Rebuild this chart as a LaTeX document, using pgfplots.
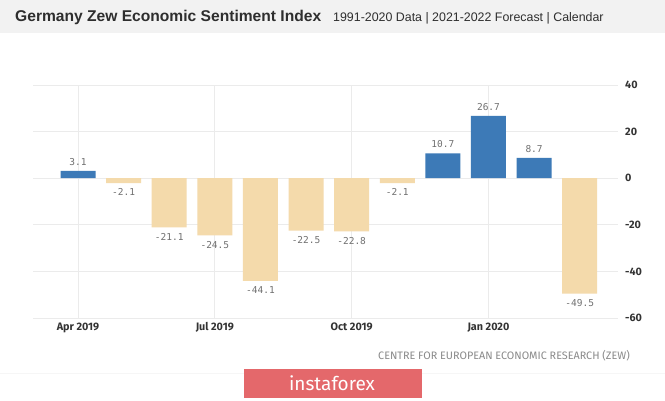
\documentclass[border=0pt]{standalone}
\usepackage{pgfplots}
\pgfplotsset{compat=1.18}
\usepackage{fontspec}
\setmainfont{Liberation Sans}
\newfontfamily\tickfont{Fira Sans}
\newfontfamily\monofont{DejaVu Sans Mono}
\definecolor{barblue}{HTML}{3D7AB7}
\definecolor{barbeige}{HTML}{F4DAAB}
\definecolor{gridgray}{HTML}{EBEBEB}
\definecolor{headgray}{HTML}{F2F2F2}
\definecolor{titlegray}{HTML}{2E2E2E}
\definecolor{labelgray}{HTML}{707070}
\definecolor{tickgray}{HTML}{333333}
\definecolor{srcgray}{HTML}{8A8A8A}
\definecolor{redbox}{HTML}{E4686B}
\definecolor{seplinegray}{HTML}{F6F6F6}
\begin{document}
\begin{tikzpicture}[x=1pt,y=1pt]
\useasboundingbox (0,0) rectangle (665,400);
\fill[white] (0,0) rectangle (665,400);
\fill[headgray] (0,367) rectangle (665,400);
\node[anchor=base west, inner sep=0, font=\bfseries\fontsize{15.6}{17}\selectfont, text=titlegray] at (15,378.3) {Germany Zew Economic Sentiment Index};
\node[anchor=base west, inner sep=0, font=\fontsize{12.4}{14}\selectfont, text=titlegray] at (333,378.3) {1991-2020 Data | 2021-2022 Forecast | Calendar};
\begin{axis}[
  at={(33pt,82pt)}, anchor=south west,
  scale only axis, width=585pt, height=233pt,
  xmin=-0.987, xmax=11.84, ymin=-60, ymax=40,
  ybar, bar width=35pt, bar shift=0pt,
  axis line style={draw=none},
  tick style={draw=none},
  major tick length=0pt,
  ymajorgrids, xmajorgrids,
  major grid style={gridgray, line width=0.9pt},
  ytick={-60,-40,-20,0,20,40},
  yticklabels={-60,-40,-20,0,20,40},
  yticklabel pos=right,
  yticklabel style={anchor=west, inner sep=0pt, xshift=7pt, font=\tickfont\fontsize{10.8}{12}\selectfont\bfseries, text=tickgray},
  xtick={0,3,6,9},
  xticklabels={Apr 2019,Jul 2019,Oct 2019,Jan 2020},
  xticklabel style={anchor=north, inner sep=0pt, yshift=-4.5pt, font=\tickfont\fontsize{10.8}{12}\selectfont\bfseries, text=tickgray},
  point meta=explicit symbolic,
  nodes near coords,
  clip=false,
]
\addplot[fill=barblue, draw=none, nodes near coords style={anchor=south, inner sep=5.5pt, font=\monofont\fontsize{9.5}{11}\selectfont, text=labelgray}]
  coordinates {(0,3.1) [3.1] (8,10.7) [10.7] (9,26.7) [26.7] (10,8.7) [8.7]};
\addplot[fill=barbeige, draw=none, nodes near coords style={anchor=north, inner sep=5.5pt, font=\monofont\fontsize{9.5}{11}\selectfont, text=labelgray}]
  coordinates {(1,-2.1) [-2.1] (2,-21.1) [-21.1] (3,-24.5) [-24.5] (4,-44.1) [-44.1] (5,-22.5) [-22.5] (6,-22.8) [-22.8] (7,-2.1) [-2.1] (11,-49.5) [-49.5]};
\end{axis}
\node[anchor=base east, inner sep=0, font=\tickfont\fontsize{10.8}{12}\selectfont, text=srcgray] at (630,40.5) {CENTRE FOR EUROPEAN ECONOMIC RESEARCH (ZEW)};
\draw[seplinegray, line width=0.6pt] (0,27) -- (665,27);
\fill[redbox] (244,2) rectangle (422,31);
\node[font=\tickfont\fontsize{19}{22}\selectfont, text=white, inner sep=0] at (332,17) {instaforex};
\end{tikzpicture}
\end{document}
